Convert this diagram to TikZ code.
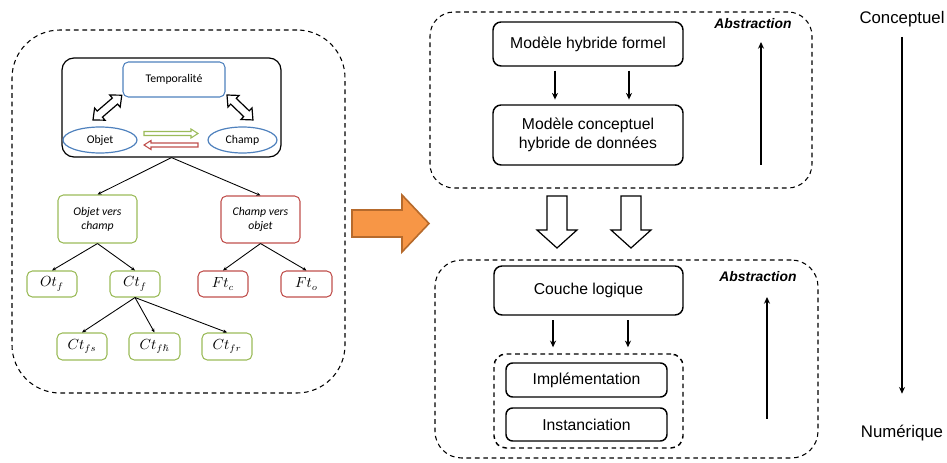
\documentclass[tikz,border=0pt]{standalone}
\usepackage{amssymb}
\usepackage{fontspec}
\setmainfont{Liberation Sans}
\newfontfamily\calfont{Carlito}
\usetikzlibrary{arrows.meta,shapes.geometric,calc}
\definecolor{oblue}{HTML}{4F81BD}
\definecolor{ogreen}{HTML}{9BBB59}
\definecolor{ored}{HTML}{C0504D}
\definecolor{orfill}{HTML}{F79646}
\definecolor{orline}{HTML}{B66A2C}
\tikzset{
  dashbox/.style={draw, line width=0.8pt, dash pattern=on 3.5pt off 2.8pt, rectangle},
  solidbox/.style={draw, line width=1.1pt, rectangle, rounded corners=6pt, align=center, font=\fontsize{11.8}{14.5}\selectfont, inner sep=0pt},
  lbox/.style={draw, line width=0.8pt, rectangle, rounded corners=4pt, align=center, inner sep=0pt, font=\calfont\fontsize{8.8}{10.5}\selectfont},
  gbox/.style={lbox, draw=ogreen},
  rbox/.style={lbox, draw=ored},
  mbox/.style={lbox, minimum width=37.5pt, minimum height=19.5pt, font=\fontsize{10.5}{12}\selectfont},
  tedge/.style={line width=0.65pt, -{Stealth[length=3pt,width=2.6pt]}},
  redge/.style={line width=0.9pt, -{Stealth[length=5pt,width=4.5pt]}},
  hollow/.style={draw, line width=0.9pt, fill=white, line join=miter},
  abst/.style={font=\fontsize{10.4}{12}\selectfont\bfseries\itshape},
  side/.style={font=\fontsize{12.6}{15}\selectfont}
}
\begin{document}
\begin{tikzpicture}[x=0.75pt,y=-0.75pt]
\useasboundingbox (0,0) rectangle (947,463);

% ---------------- left panel ----------------
\node[dashbox, minimum width=249.75pt, minimum height=272.25pt, rounded corners=36pt] (lpanel) at (178.5,211.5) {};
\node[draw, line width=0.9pt, rounded corners=9pt, minimum width=164.25pt, minimum height=74.25pt] (inner) at (171.5,107.5) {};
\node[lbox, draw=oblue, minimum width=76.5pt, minimum height=26.25pt] (temp) at (174,79.5) {Temporalité};
\node[draw=oblue, line width=0.9pt, ellipse, minimum width=55.5pt, minimum height=19.5pt, inner sep=0pt, font=\calfont\fontsize{8.8}{10.5}\selectfont] (objet) at (100,140) {Objet};
\node[draw=oblue, line width=0.9pt, ellipse, minimum width=51.75pt, minimum height=19.5pt, inner sep=0pt, font=\calfont\fontsize{8.8}{10.5}\selectfont] (champ) at (242.5,140) {Champ};

% hollow double arrows
\begin{scope}[shift={(93,120)}, rotate=40.76]
  \draw[hollow] (0,0) -- (9,-8) -- (9,-4) -- (29,-4) -- (29,-8) -- (38,0) -- (29,8) -- (29,4) -- (9,4) -- (9,8) -- cycle;
\end{scope}
\begin{scope}[shift={(227,95)}, rotate=-43.87]
  \draw[hollow] (0,0) -- (9,-8) -- (9,-4) -- (27,-4) -- (27,-8) -- (36,0) -- (27,8) -- (27,4) -- (9,4) -- (9,8) -- cycle;
\end{scope}

% green and red thin hollow arrows
\draw[draw=ogreen, line width=0.8pt, fill=white] (144,131.5) -- (191,131.5) -- (191,129) -- (198,133.5) -- (191,138) -- (191,135.5) -- (144,135.5) -- cycle;
\draw[draw=ored, line width=0.8pt, fill=white] (198,143) -- (151,143) -- (151,140.5) -- (144,145) -- (151,149.5) -- (151,147) -- (198,147) -- cycle;

\node[gbox, minimum width=59.25pt, minimum height=36pt, font=\calfont\itshape\fontsize{8.8}{10.5}\selectfont] (ovc) at (97.5,219) {Objet vers\\champ};
\node[rbox, minimum width=59.25pt, minimum height=35.25pt, font=\calfont\itshape\fontsize{8.8}{10.5}\selectfont] (cvo) at (260.5,219.5) {Champ vers\\objet};

\node[mbox, draw=ogreen] (otf) at (52,284) {$Ot_f$};
\node[mbox, draw=ogreen] (ctf) at (135,284) {$Ct_f$};
\node[mbox, draw=ored] (ftc) at (223,284) {$Ft_c$};
\node[mbox, draw=ored, minimum width=38.25pt] (fto) at (306.5,284) {$Ft_o$};
\node[mbox, draw=ogreen, minimum height=20.25pt] (ctfs) at (82,346.5) {$Ct_{fs}$};
\node[mbox, draw=ogreen, minimum height=20.25pt, minimum width=38.25pt] (ctfh) at (154.5,346.5) {$Ct_{f\hslash}$};
\node[mbox, draw=ogreen, minimum height=20.25pt] (ctfr) at (227,346.5) {$Ct_{fr}$};

\draw[tedge] (inner.south) -- (ovc.north);
\draw[tedge] (inner.south) -- (cvo.north);
\draw[tedge] (ovc.south) -- (otf.north);
\draw[tedge] (ovc.south) -- (ctf.north);
\draw[tedge] (cvo.south) -- (ftc.north);
\draw[tedge] (cvo.south) -- (fto.north);
\draw[tedge] (ctf.south) -- (ctfs.north);
\draw[tedge] (ctf.south) -- (ctfh.north);
\draw[tedge] (ctf.south) -- (ctfr.north);

% orange arrow
\draw[draw=orline, fill=orfill, line width=1.2pt, line join=miter] (352,210) -- (402,210) -- (402,195) -- (429,223.5) -- (402,252) -- (402,237) -- (352,237) -- cycle;

% ---------------- right panel ----------------
\node[dashbox, minimum width=286.5pt, minimum height=132pt, rounded corners=18pt] (topbox) at (621,100) {};
\node[solidbox, minimum width=142.5pt, minimum height=33pt] (mhf) at (588,44) {Modèle hybride formel};
\node[solidbox, minimum width=142.5pt, minimum height=45pt] (mchd) at (588,135) {Modèle conceptuel\\hybride de données};
\draw[redge, shorten <=3pt, shorten >=3.5pt] ([xshift=-24.75pt]mhf.south) -- ([xshift=-24.75pt]mchd.north);
\draw[redge, shorten <=3pt, shorten >=3.5pt] ([xshift=30.75pt]mhf.south) -- ([xshift=30.75pt]mchd.north);
\node[abst] (abs1) at (753,24) {Abstraction};
\coordinate (up1a) at (761,165);
\coordinate (up1b) at (761,42);
\draw[redge] (up1a) -- (up1b);

% big hollow down arrows
\draw[hollow] (547,196) -- (567,196) -- (567,230) -- (577,230) -- (557,248) -- (537,230) -- (547,230) -- cycle;
\draw[hollow] (621,196) -- (641,196) -- (641,230) -- (651,230) -- (631,248) -- (611,230) -- (621,230) -- cycle;

\node[dashbox, minimum width=287.25pt, minimum height=148.5pt, rounded corners=20pt] (botbox) at (626.5,359) {};
\node[solidbox, minimum width=141.75pt, minimum height=36.75pt] (couche) at (588.5,290.5) {Couche logique};
\node[dashbox, line width=1.1pt, minimum width=141.75pt, minimum height=70.5pt, rounded corners=9pt] (impgrp) at (588.5,401) {};
\node[solidbox, minimum width=120.75pt, minimum height=25.5pt, rounded corners=5pt] (impl) at (586.5,380) {Implémentation};
\node[solidbox, minimum width=120.75pt, minimum height=24.75pt, rounded corners=5pt] (inst) at (586.5,424.5) {Instanciation};
\draw[redge, shorten <=3.5pt, shorten >=4.5pt] ([xshift=-26.6pt]couche.south) -- ([xshift=-26.6pt]impgrp.north);
\draw[redge, shorten <=3.5pt, shorten >=4.5pt] ([xshift=29.6pt]couche.south) -- ([xshift=29.6pt]impgrp.north);
\node[abst] (abs2) at (758,277) {Abstraction};
\coordinate (up2a) at (767,419);
\coordinate (up2b) at (767,297);
\draw[redge] (up2a) -- (up2b);

% ---------------- far right ----------------
\node[side] (conc) at (902,19) {Conceptuel};
\node[side] (num) at (902,433) {Numérique};
\draw[redge, shorten <=4pt, shorten >=20pt] (conc.south) -- (num.north);
\end{tikzpicture}
\end{document}
